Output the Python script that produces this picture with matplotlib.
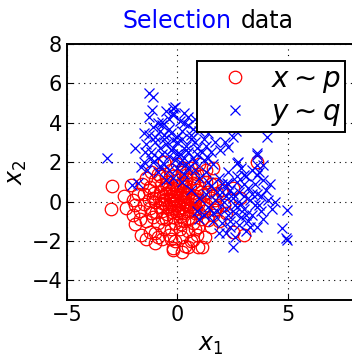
import matplotlib
matplotlib.use("Agg")
import matplotlib.pyplot as plt

plt.rcParams["font.family"] = ["DejaVu Sans"]
plt.rcParams["mathtext.fontset"] = "dejavusans"

# samples from p (red circles)
red_x = [-2.95, -3.0, -2.08, -2.35, -2.0, -1.9, -1.67, -1.22, -1.0, -0.68,
         -0.18, 0.22, 0.5, 1.13, 0.72, -1.22, 0.36, 0.95, 1.27, 1.4,
         1.72, 1.63, 3.6, 2.5, 2.85, 2.53, 3.0, 1.8, -0.2, 0.95,
         -0.9, -0.3, 0.2, 0.6, 1.1, -1.4, 0.0, -0.6, 1.0,
         -1.6, -1.0, -0.5, 0.0, 0.4, 0.9, 1.3, -0.2, 0.7,
         -1.8, -1.3, -0.8, -0.4, 0.1, 0.5, 0.9, 1.4, -1.1, 0.3, -0.2, 0.7,
         -2.0, -1.5, -1.0, -0.6, -0.3, 0.0, 0.3, 0.6, 1.0, 1.3, 1.7, -0.1, 0.2, 0.8, -0.8,
         -1.7, -1.2, -0.7, -0.4, 0.0, 0.4, 0.8, 1.2, -0.2, 0.6, 1.6,
         -1.4, -0.9, -0.5, -0.1, 0.3, 0.7, 1.1, 0.1, -0.6,
         -1.0, -0.4, 0.2, 0.5, 0.9, -0.1, 1.5, -1.4,
         0.15, -0.35, 0.45, -0.15, 0.25, -0.55, 0.05, 0.35, -0.25, 0.55, -0.75,
         0.85, -0.45, 0.15, 1.15, -1.25, 0.4, -0.5, 1.5, -1.7, 2.1, 2.0, 1.9,
         -2.4, -0.9, 0.6, 1.3, -1.2, 0.0, 0.9, -0.3, 1.7, 2.2,
         -0.05, 0.1, -0.3, 0.35, -0.5, 0.65, -0.7, 0.05, 0.45, -0.15, 0.25, -0.85,
         0.95, -0.4, 0.75, -0.6, 0.2, -1.05, 1.05, -0.25, 0.5, -0.95, 0.0, -0.45,
         0.7, 1.2, -1.3, 0.15, -0.7, 0.4, -0.1, 0.3, -0.2, 0.55, -0.65, 0.85,
         -0.35, 0.1, 1.0, -1.1, -1.5, 1.5, -0.8, 0.3, -1.9, 1.8, -0.3, 0.8]
red_y = [0.78, -0.38, 0.84, -0.33, -0.68, -1.14, -1.7, -1.55, -2.1, -1.9,
         -2.46, -2.56, -2.3, -2.3, -1.95, 0.74, -2.26, -1.3, -1.8, -0.94,
         -0.43, 1.7, 2.0, 0.68, 0.18, -1.55, -1.7, 0.43, -2.36, -2.3,
         1.4, 1.6, 1.5, 1.7, 1.3, 1.2, 1.9, 2.0, 1.9,
         0.9, 1.1, 0.9, 1.1, 1.0, 0.9, 1.0, 1.3, 1.2,
         0.4, 0.6, 0.5, 0.7, 0.6, 0.4, 0.6, 0.5, 0.2, 0.8, 0.4, 0.2,
         0.1, -0.1, 0.0, 0.1, -0.1, 0.1, 0.0, -0.1, 0.1, -0.2, 0.1, 0.3, -0.3, 0.3, -0.3,
         -0.5, -0.6, -0.5, -0.4, -0.6, -0.5, -0.6, -0.5, -0.8, -0.3, -0.7,
         -1.0, -1.1, -0.9, -1.1, -1.0, -1.1, -0.9, -1.4, -1.4,
         -1.6, -1.7, -1.8, -1.5, -1.7, -2.0, -1.3, -1.9,
         0.25, 0.15, -0.2, -0.35, 0.45, -0.15, -0.2, 0.25, 0.65, 0.75, 0.85,
         -0.35, -0.65, -0.75, 0.35, -0.35, 1.35, 1.25, 0.9, -0.9, -0.2, 0.6, -1.0,
         0.3, -1.8, -2.0, 1.6, 1.5, 0.8, 1.4, -1.4, 0.9, -0.6,
         0.05, 0.35, 0.3, -0.15, 0.45, 0.1, -0.05, -0.45, 0.55, 0.85, -0.6, 0.2,
         -0.15, -0.25, -0.45, 0.65, 0.95, 0.45, 0.5, -0.55, -0.85, -0.55, 0.5, 1.0,
         0.95, -0.3, 0.1, -1.15, -0.85, 1.15, -0.05, 0.15, 0.1, -0.45, 0.3, 0.15,
         0.55, -0.95, -0.6, -0.8, 0.4, 0.2, 1.3, 1.7, -0.2, -0.3, -1.9, -1.4]

# samples from q (blue crosses)
blue_x = [-3.2, -1.3, -1.1, -1.15, -0.18, -0.1, -0.2, -0.7, -1.9, -1.5,
          -1.45, -2.04, -1.8, -1.67, -1.36, 1.4, 1.72, 2.17, 1.95, 2.3,
          2.67, 4.07, 2.53, 3.62, 2.76, 3.62, 3.9, 3.0, 3.6, 4.43,
          4.97, 4.75, 4.9, 4.97, 2.5, 2.7, 3.62, 2.26,
          -0.9, -0.4, 0.1, 0.5, -0.2, 0.3, 0.8, -1.1,
          -1.3, -0.8, -0.3, 0.2, 0.6, 1.0, -0.6, 0.0, 1.2,
          -1.4, -1.0, -0.5, 0.0, 0.4, 0.8, 1.3, -0.2, 0.6,
          -1.2, -0.7, -0.3, 0.1, 0.5, 0.9, 1.5, -0.9, 0.3,
          -1.1, -0.6, -0.1, 0.4, 0.8, 1.2, 1.6, 0.0, -0.4,
          -0.9, 0.3, 0.8, 1.3, -0.2, 1.0,
          1.5, 1.9, 2.3, 2.7, 3.1, 3.5, 3.9, 2.0, 2.4, 2.8, 3.2, 3.6, 4.0,
          1.7, 2.1, 2.5, 2.9, 3.3, 3.7, 4.1, 1.8, 2.2, 2.6, 3.0, 3.4, 3.8,
          1.6, 2.0, 2.4, 2.8, 3.2, 3.6, 2.2, 2.6, 3.1, 1.4, 1.3, 2.3,
          3.4, 2.9, 1.9, 3.9, 4.3, 3.0, 2.7, 1.2, 1.0, 0.9,
          1.0, 0.6, 1.4, 0.2, -0.5,
          -0.7, 0.3, -0.4, 0.7, -1.0, 0.2, -0.2, 0.9, -0.8, 0.4, -0.4, 0.7,
          1.1, -1.2, 0.0, -0.6, 0.5, -0.5, 1.1, -1.3, 0.1, -0.8, 0.5, 1.4, -1.5,
          2.5, 3.0, 3.4, 2.2, 2.6, 3.1, 3.5, 2.9, 2.3, 3.8, 2.0, 2.7, 3.3,
          1.8, 4.2, 3.7, 2.4, 1.6]
blue_y = [2.2, 5.5, 5.3, 4.65, 4.75, 4.8, 4.5, 4.05, 2.7, 3.5,
          2.5, 0.84, 0.93, 1.75, 1.6, 3.47, 3.0, 3.0, 2.6, 2.77,
          3.6, 3.27, 3.27, 2.46, 2.0, 1.85, 1.85, 1.35, 1.35, 0.0,
          -0.43, -1.35, -1.85, -1.95, -2.3, 1.95, 2.36, 0.93,
          4.0, 4.2, 4.1, 3.9, 4.4, 4.5, 4.2, 3.8,
          3.4, 3.6, 3.5, 3.6, 3.4, 3.6, 3.2, 3.3, 3.2,
          2.9, 3.0, 2.9, 3.0, 2.8, 3.0, 2.8, 2.7, 3.2,
          2.5, 2.4, 2.6, 2.4, 2.5, 2.4, 2.5, 2.2, 2.2,
          2.0, 1.9, 2.1, 1.9, 2.0, 2.1, 1.9, 1.7, 1.6,
          1.5, 1.4, 1.6, 1.5, 1.2, 1.2,
          0.8, 1.2, 1.5, 1.0, 1.3, 0.9, 1.1, 0.5, 0.6, 0.5, 0.7, 0.4, 0.6,
          0.1, 0.0, 0.2, -0.1, 0.1, -0.2, 0.1, -0.5, -0.4, -0.6, -0.4, -0.7, -0.5,
          -1.0, -1.1, -1.0, -1.2, -1.0, -1.3, -1.6, -1.8, -1.5, -0.3, 0.4, 0.9,
          1.6, 1.7, -1.6, -0.9, -0.4, 0.3, -0.3, -0.7, 0.2, -0.5,
          -0.9, 0.6, 1.0, 1.0, 1.1,
          3.9, 4.0, 3.7, 3.7, 3.3, 3.2, 3.1, 2.7, 2.7, 2.6, 2.3, 2.2,
          2.5, 2.2, 2.4, 3.4, 4.3, 4.6, 3.9, 4.3, 2.0, 1.8, 1.7, 2.2, 2.0,
          0.4, 0.9, 0.4, 0.3, -0.2, -0.7, -0.2, -0.8, -0.7, 0.3, 0.9, 1.3, -1.3,
          0.5, 0.9, 1.5, -1.3, -0.6]

x_ticks = [-5, 0, 5]
y_ticks = [-4, -2, 0, 2, 4, 6, 8]

fig = plt.figure(figsize=(3.52, 3.6), dpi=100)
ax = fig.add_axes([67 / 352, 60 / 360, 287 / 352, 256 / 360])

ax.plot(red_x, red_y, "o", mfc="none", mec="red", ms=9, mew=0.9,
        label=r"$x\sim p$")
ax.plot(blue_x, blue_y, "x", color="blue", ms=7, mew=0.9,
        label=r"$y\sim q$")

ax.set_xlim(-5, 8)
ax.set_ylim(-5, 8)
ax.set_xticks(x_ticks)
ax.set_yticks(y_ticks)
ax.tick_params(direction="in", labelsize=15, length=4)
ax.grid(True, linestyle=(0, (1, 4)), color="black", linewidth=0.8)
for s in ax.spines.values():
    s.set_linewidth(1.4)

ax.set_xlabel(r"$x_1$", fontsize=17, labelpad=6)
ax.set_ylabel(r"$x_2$", fontsize=17, labelpad=2)

# two-coloured title
fig.text(232 / 352, 1 - 21 / 360, "Selection", color="blue", fontsize=17,
         ha="right", va="center")
fig.text(241 / 352, 1 - 21 / 360, "data", color="black", fontsize=17,
         ha="left", va="center")

leg = ax.legend(loc="upper right", bbox_to_anchor=(345 / 352, 1 - 61 / 360),
                bbox_transform=fig.transFigure, borderaxespad=0,
                fancybox=False, fontsize=20, handletextpad=0.1,
                borderpad=0.15, labelspacing=0.1, handlelength=2.4,
                framealpha=1)
leg.get_frame().set_edgecolor("black")
leg.get_frame().set_linewidth(1.4)

fig.savefig("out.png", dpi=100)
